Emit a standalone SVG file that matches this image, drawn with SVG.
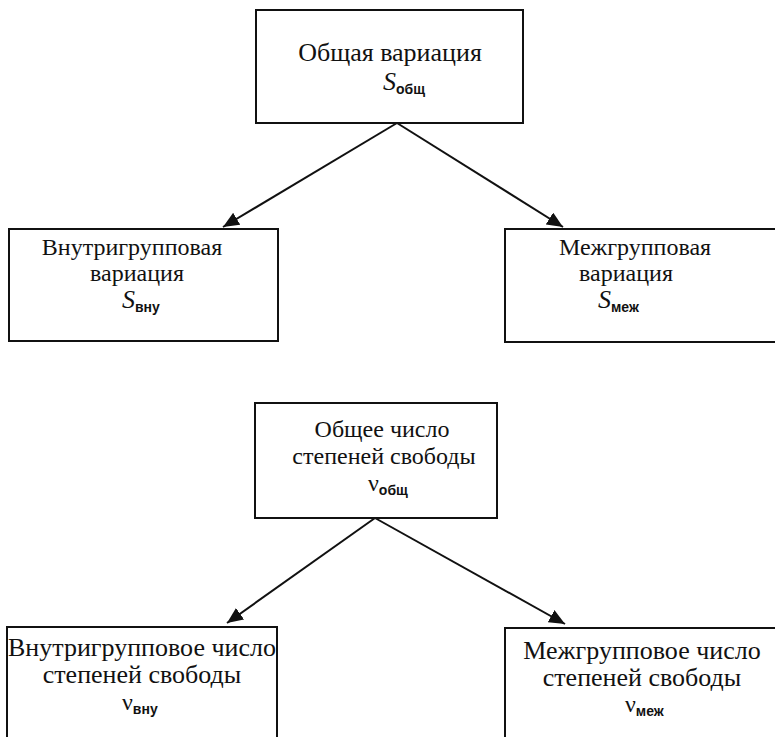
<svg xmlns="http://www.w3.org/2000/svg" width="775" height="737" viewBox="0 0 775 737">
<style>
.box{fill:#fff;stroke:#111;stroke-width:2}
.t{font-family:"Liberation Serif","Times New Roman",serif;font-size:26px;fill:#111;text-anchor:middle}
.m{font-size:24px}
.s{font-family:"Liberation Serif","Times New Roman",serif;font-size:26px;font-style:italic;fill:#111}
.nu{font-family:"Liberation Serif","Times New Roman",serif;font-size:24px;fill:#111}
.sub{font-family:"Liberation Sans",Arial,sans-serif;font-size:14px;font-weight:bold;fill:#111}
.c{stroke:#111;stroke-width:2;fill:none;marker-end:url(#ah)}
</style>
<defs>
<marker id="ah" markerUnits="userSpaceOnUse" markerWidth="18" markerHeight="14" refX="16" refY="7" orient="auto">
<path d="M0,0 L16,7 L0,14 Z" fill="#111"/>
</marker>
</defs>
<rect width="775" height="737" fill="#fff"/>
<g id="connectors">
<line class="c" x1="397" y1="123" x2="223" y2="227"/>
<line class="c" x1="397" y1="123" x2="563" y2="227"/>
<line class="c" x1="375" y1="518" x2="227" y2="623"/>
<line class="c" x1="375" y1="518" x2="565" y2="624"/>
</g>
<g id="n_total">
<rect class="box" x="256" y="10" width="267" height="113"/>
<text class="t" x="390" y="61">Общая вариация</text>
<text x="383" y="90"><tspan class="s">S</tspan><tspan class="sub" dy="4">общ</tspan></text>
</g>
<g id="n_within">
<rect class="box" x="9" y="229" width="269" height="112"/>
<text class="t m" x="132" y="255">Внутригрупповая</text>
<text class="t m" x="137" y="281">вариация</text>
<text x="122" y="308"><tspan class="s">S</tspan><tspan class="sub" dy="4">вну</tspan></text>
</g>
<g id="n_between">
<rect class="box" x="505" y="229" width="280" height="113"/>
<text class="t m" x="635" y="255">Межгрупповая</text>
<text class="t m" x="626" y="281">вариация</text>
<text x="598" y="308"><tspan class="s">S</tspan><tspan class="sub" dy="4">меж</tspan></text>
</g>
<g id="n_df_total">
<rect class="box" x="255" y="403" width="242" height="115"/>
<text class="t m" x="382" y="437">Общее число</text>
<text class="t m" x="384" y="464">степеней свободы</text>
<text x="368" y="491"><tspan class="nu">ν</tspan><tspan class="sub" dy="4">общ</tspan></text>
</g>
<g id="n_df_within">
<rect class="box" x="7" y="627" width="270" height="120"/>
<text class="t" x="142" y="656">Внутригрупповое число</text>
<text class="t" x="142" y="683">степеней свободы</text>
<text x="122" y="710"><tspan class="nu">ν</tspan><tspan class="sub" dy="4">вну</tspan></text>
</g>
<g id="n_df_between">
<rect class="box" x="505" y="628" width="280" height="120"/>
<text class="t" x="642" y="659">Межгрупповое число</text>
<text class="t" x="642" y="686">степеней свободы</text>
<text x="625" y="712"><tspan class="nu">ν</tspan><tspan class="sub" dy="4">меж</tspan></text>
</g>
</svg>
